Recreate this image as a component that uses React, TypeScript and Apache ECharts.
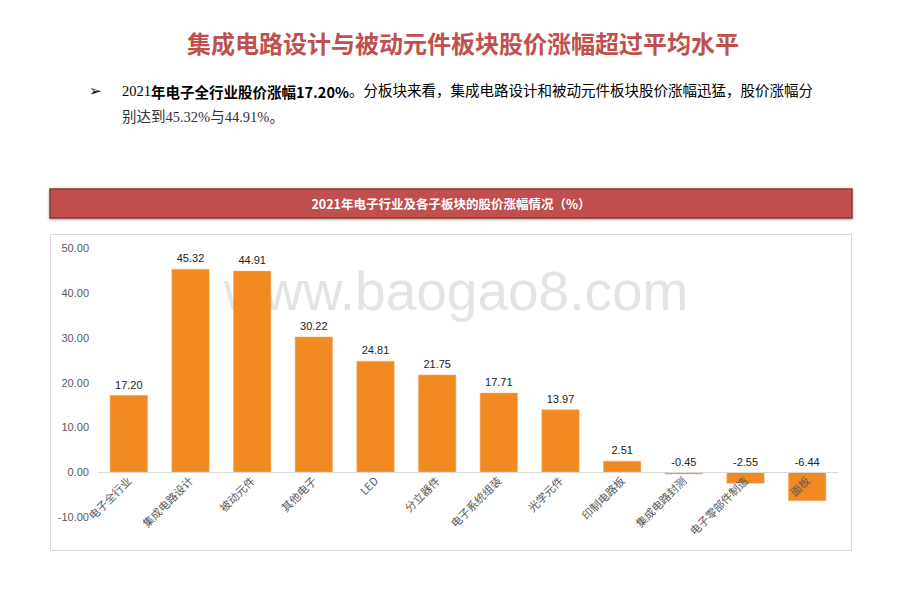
import React, { useEffect, useRef } from "react";
import * as echarts from "echarts";

const categories = [
  "电子全行业", "集成电路设计", "被动元件", "其他电子", "LED", "分立器件",
  "电子系统组装", "光学元件", "印制电路板", "集成电路封测", "电子零部件制造", "面板",
];
const values = [17.2, 45.32, 44.91, 30.22, 24.81, 21.75, 17.71, 13.97, 2.51, -0.45, -2.55, -6.44];
const yMin = -10;
const yMax = 50;
const yStep = 10;

const pageTitle = "集成电路设计与被动元件板块股价涨幅超过平均水平";
const chartTitle = "2021年电子行业及各子板块的股价涨幅情况（%）";
const watermark = "www.baogao8.com";

export default function App() {
  const ref = useRef<HTMLDivElement>(null);
  useEffect(() => {
    if (!ref.current) return;
    const chart = echarts.init(ref.current, null, { renderer: "svg" });
    const serif = "'Liberation Serif', 'Noto Sans CJK SC', serif";
    const gridTop = 248;
    const gridBottom = 97;
    const gridH = 614 - gridTop - gridBottom;
    const zeroOffset = (gridH * (0 - yMin)) / (yMax - yMin);
    chart.setOption({
      animation: false,
      backgroundColor: "#ffffff",
      graphic: [
        {
          type: "text",
          x: 463,
          y: 42,
          z: 10,
          style: {
            text: pageTitle,
            fill: "#C0504D",
            font: "bold 24px 'Noto Sans CJK SC', sans-serif",
            align: "center",
            verticalAlign: "middle",
          },
        },
        {
          type: "text",
          x: 89,
          y: 91,
          z: 10,
          style: {
            text: "➢",
            fill: "#000",
            font: "15px 'DejaVu Sans', sans-serif",
            verticalAlign: "middle",
          },
        },
        {
          type: "text",
          x: 122,
          y: 91,
          z: 10,
          style: {
            text: "{a|2021}{b|年电子全行业股价涨幅17.20%}{a|。分板块来看，集成电路设计和被动元件板块股价涨幅迅猛，股价涨幅分}",
            verticalAlign: "middle",
            rich: {
              a: { fontSize: 14.5, fontFamily: serif, color: "#333" },
              b: { fontSize: 14.5, fontFamily: "'Noto Sans CJK SC', sans-serif", fontWeight: "bold", color: "#000" },
            },
          },
        },
        {
          type: "text",
          x: 122,
          y: 117,
          z: 10,
          style: {
            text: "别达到45.32%与44.91%。",
            fill: "#333",
            font: "14.5px " + serif,
            verticalAlign: "middle",
          },
        },
        {
          type: "rect",
          z: 1,
          shape: { x: 50, y: 189, width: 802, height: 29 },
          style: {
            fill: "#C0504D",
            stroke: "#8C3836",
            lineWidth: 1.5,
            shadowBlur: 3,
            shadowColor: "rgba(0,0,0,0.35)",
            shadowOffsetY: 1,
          },
        },
        {
          type: "text",
          x: 451,
          y: 203,
          z: 10,
          style: {
            text: chartTitle,
            fill: "#ffffff",
            font: "bold 12.5px 'Noto Sans CJK SC', sans-serif",
            align: "center",
            verticalAlign: "middle",
          },
        },
        {
          type: "rect",
          z: 0,
          shape: { x: 50.5, y: 234.5, width: 801, height: 316 },
          style: { fill: "#ffffff", stroke: "#d9d9d9", lineWidth: 1 },
        },
        {
          type: "text",
          x: 456,
          y: 291,
          z: 1,
          style: {
            text: watermark,
            fill: "#e4e4e4",
            font: "55px 'Liberation Sans', Arial, sans-serif",
            align: "center",
            verticalAlign: "middle",
          },
        },
      ],
      grid: { left: 98, right: 82, top: gridTop, bottom: gridBottom, containLabel: false },
      xAxis: {
        type: "category",
        data: categories,
        position: "bottom",
        offset: -zeroOffset,
        axisLine: { onZero: false, lineStyle: { color: "#d9d9d9", width: 1 } },
        axisTick: { show: false },
        axisLabel: {
          rotate: 45,
          interval: 0,
          margin: 6,
          color: "#595959",
          fontSize: 11,
          fontFamily: "'Noto Sans CJK SC', sans-serif",
        },
        z: 5,
      },
      yAxis: {
        type: "value",
        min: yMin,
        max: yMax,
        interval: yStep,
        axisLine: { show: false },
        axisTick: { show: false },
        splitLine: { show: false },
        axisLabel: {
          color: "#595959",
          fontSize: 11,
          margin: 9,
          fontFamily: "'Liberation Sans', Arial, sans-serif",
          formatter: (v: number) => v.toFixed(2),
        },
      },
      series: [
        {
          type: "bar",
          data: values,
          barWidth: 38,
          z: 3,
          itemStyle: { color: "#F28A24", borderColor: "#F7B374", borderWidth: 0.5 },
          label: {
            show: true,
            position: "top",
            distance: 5,
            color: "#222",
            fontSize: 11,
            fontFamily: "'Liberation Sans', Arial, sans-serif",
            formatter: (p: any) => Number(p.value).toFixed(2),
          },
        },
      ],
    });
    return () => chart.dispose();
  }, []);
  return (
    <div
      ref={ref}
      style={{ position: "fixed", left: 0, top: 0, width: 920, height: 614 }}
    />
  );
}
